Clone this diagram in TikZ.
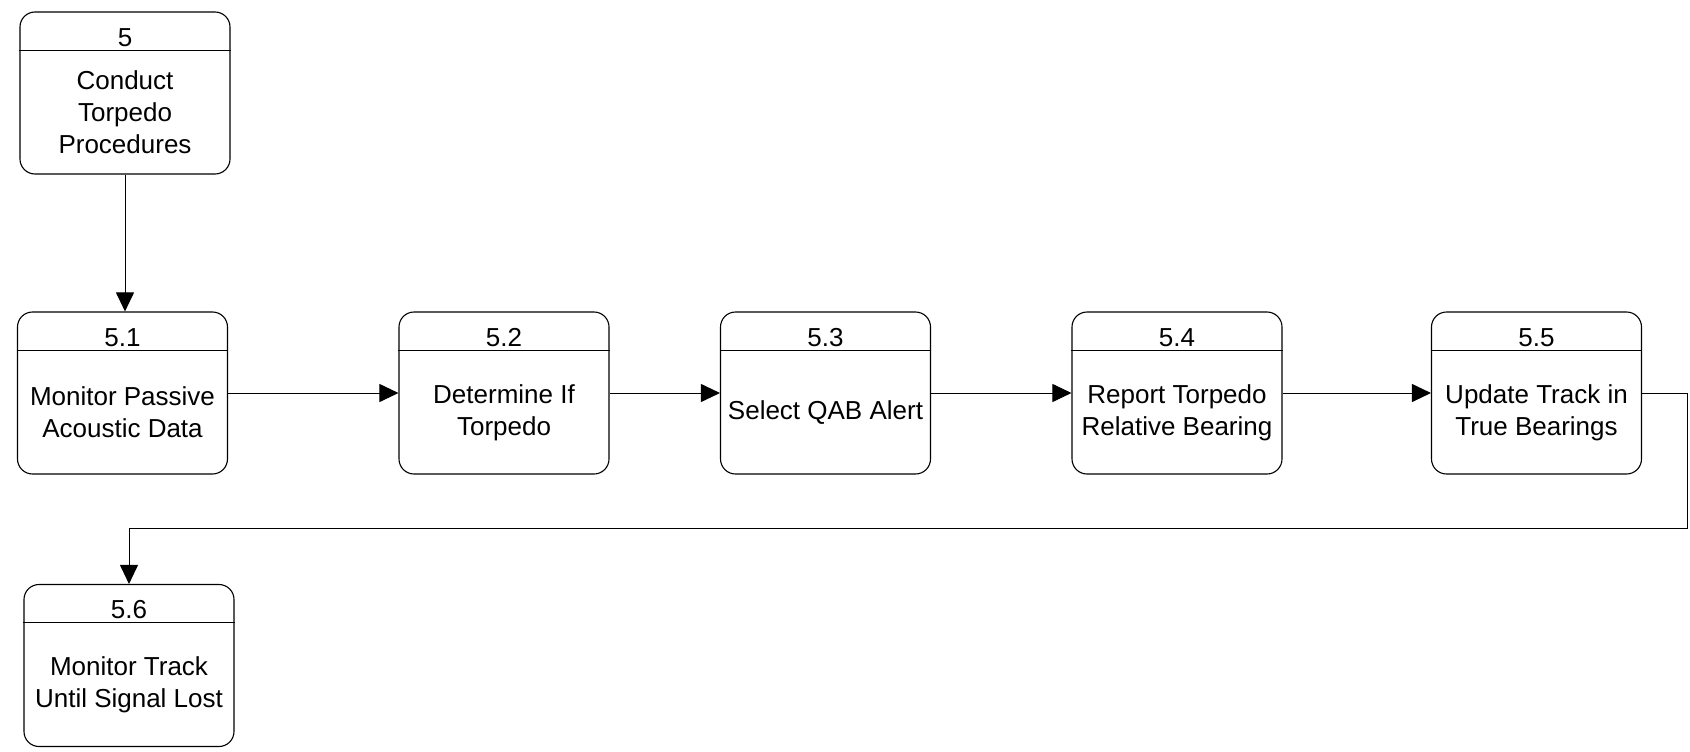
\documentclass[tikz,border=0pt]{standalone}
\usepackage{fontspec}
\setmainfont{Liberation Sans}
\usetikzlibrary{calc,arrows.meta}
\tikzset{
  box/.style={draw, line width=1.1pt, rounded corners=15pt, minimum width=210pt, minimum height=162pt, inner sep=0pt},
  num/.style={font=\fontsize{26}{30}\selectfont, anchor=base, inner sep=0pt},
  body/.style={font=\fontsize{26}{32}\selectfont, align=center, inner sep=0pt},
  sep/.style={line width=1pt},
  flow/.style={line width=0.9pt, -{Triangle[length=19pt,width=18pt]}},
}
\newcommand{\procbox}[4]{%
  \node[box] (#1) at (#2) {};
  \draw[sep] ([yshift=-39pt]#1.north west) -- ([yshift=-39pt]#1.north east);
  \node[num] (#1n) at ([yshift=-35pt]#1.north) {#3};
  \node[body] (#1t) at ($(#1.south)!0.5!([yshift=-39pt]#1.north)$) {#4};
}
\begin{document}
\begin{tikzpicture}[x=1pt,y=-1pt]
\useasboundingbox (0,0) rectangle (1690,752);
\procbox{b5}{125,93}{5}{Conduct\\Torpedo\\Procedures}
\procbox{b51}{122.5,393}{5.1}{Monitor Passive\\Acoustic Data}
\procbox{b52}{504,393}{5.2}{Determine If\\Torpedo}
\procbox{b53}{825.5,393}{5.3}{Select QAB Alert}
\procbox{b54}{1177,393}{5.4}{Report Torpedo\\Relative Bearing}
\procbox{b55}{1536.5,393}{5.5}{Update Track in\\True Bearings}
\procbox{b56}{129,665.5}{5.6}{Monitor Track\\Until Signal Lost}
\coordinate (c1) at (1687,393);
\coordinate (c2) at (1687,528);
\coordinate (c3) at (129,528);
\draw[flow] (b5.south) -- (b5.south |- b51.north);
\draw[flow] (b51.east) -- (b52.west);
\draw[flow] (b52.east) -- (b53.west);
\draw[flow] (b53.east) -- (b54.west);
\draw[flow] (b54.east) -- (b55.west);
\draw[flow] (b55.east) -- (c1) -- (c2) -- (c3) -- (b56.north);
\end{tikzpicture}
\end{document}
